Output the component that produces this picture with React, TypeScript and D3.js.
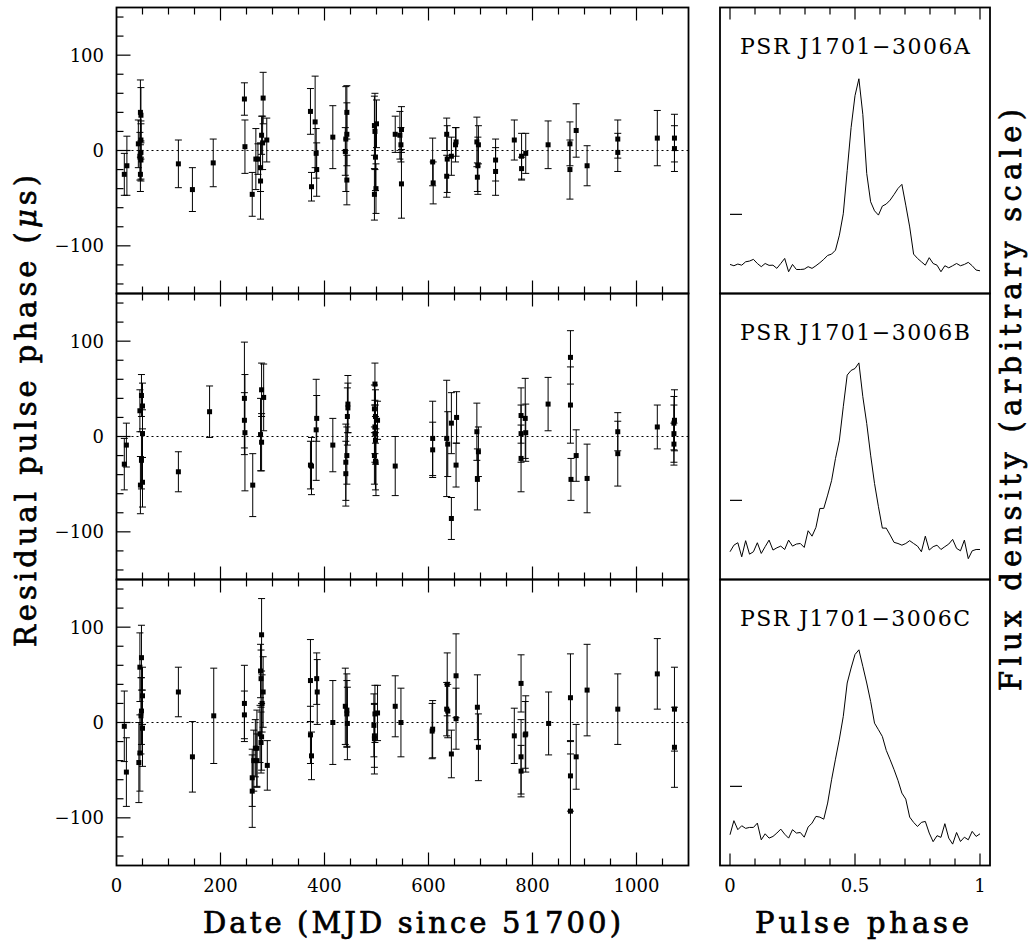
import React from 'react';
import * as d3 from 'd3';

// timing residuals: [days since MJD 51700, residual (us), 1-sigma error (us)]
const timingA: [number, number, number][] = [
  [15, -25, 22], [20, -16, 31], [42, 7, 25], [46, 40, 34], [47, 37, 29], [47, 11, 20],
  [47, -2, 30], [47, -10, 20], [46, -25, 18], [45, -6, 25], [119, -14, 25], [146, -41, 23],
  [186, -13, 25], [246, 54, 17], [247, 4, 28], [261, -46, 23], [268, -9, 32], [272, -9, 16],
  [277, -18, 25], [277, -32, 40], [279, 16, 20], [281, 8, 28], [282, 55, 27], [289, 11, 23],
  [373, 41, 24], [375, -38, 15], [382, 30, 48], [384, -3, 26], [385, -20, 28], [416, 14, 33],
  [441, 12, 55], [443, 40, 28], [443, 17, 33], [440, -1, 25], [443, -31, 26],
  [496, 26, 31], [497, 20, 40], [500, 28, 25], [498, -7, 35], [499, -40, 26], [496, -46, 27],
  [536, 17, 19], [545, 16, 25], [548, 22, 24], [547, 6, 18], [548, -35, 36],
  [608, -12, 25], [609, -34, 22], [635, 17, 17], [635, -27, 22], [636, -9, 35], [644, -6, 20],
  [652, 6, 18], [653, 9, 15], [693, 9, 26], [696, 6, 20], [695, -16, 30], [694, -28, 15],
  [729, -10, 22], [729, -22, 25], [765, 11, 21], [779, -6, 24], [779, -19, 12], [787, -3, 21],
  [830, 6, 25], [872, 7, 23], [872, -20, 31], [884, 21, 28], [905, -16, 21], [964, 12, 20],
  [964, -2, 20], [1040, 13, 29], [1073, 13, 25], [1073, 2, 24],
];

const timingB: [number, number, number][] = [
  [15, -29, 27], [19, -9, 23], [48, 43, 22], [50, 32, 24], [45, 27, 22], [50, 3, 25],
  [48, -25, 30], [50, -48, 26], [46, -51, 30], [119, -37, 21], [179, 26, 27],
  [246, 40, 59], [246, 17, 29], [247, 4, 61], [262, -51, 33], [279, 49, 28], [283, 41, 35],
  [277, 2, 38], [279, -6, 30], [373, -30, 25], [375, -31, 30], [385, 19, 24], [384, 7, 53],
  [416, -9, 28], [445, 34, 30], [445, 30, 26], [444, 21, 30], [443, -20, 30], [441, -27, 40],
  [441, -39, 34], [497, 55, 22], [496, 29, 25], [498, 21, 28], [502, 17, 20], [497, 10, 28],
  [497, 3, 30], [498, -4, 25], [496, -20, 30], [498, -26, 30], [499, -27, 35], [536, -31, 31],
  [608, -2, 39], [608, -14, 29], [635, -2, 61], [637, -8, 34], [644, 14, 32], [644, -86, 22],
  [654, 20, 27], [653, -30, 23], [693, 5, 30], [696, -16, 26], [694, -45, 32],
  [778, 22, 29], [786, 19, 42], [778, 3, 30], [787, 4, 30], [778, -23, 35], [830, 34, 28],
  [873, 83, 28], [873, 33, 40], [874, -45, 22], [884, -20, 27], [905, -44, 36],
  [964, 5, 20], [964, -18, 34], [1040, 10, 23], [1073, 17, 32], [1072, 14, 28],
  [1072, 3, 30], [1072, -8, 22],
];

const timingC: [number, number, number][] = [
  [15, -4, 37], [19, -52, 36], [48, 68, 34], [45, 58, 36], [50, 28, 30], [48, 12, 35],
  [47, 7, 40], [50, -6, 40], [45, -32, 40], [43, -42, 42], [119, 32, 26], [146, -36, 37],
  [187, 7, 50], [246, 20, 40], [246, 8, 25], [261, -58, 30], [261, -72, 38], [264, -40, 32],
  [267, -27, 30], [270, -27, 40], [270, -40, 28], [276, -12, 30], [278, -21, 32],
  [279, 92, 38], [277, 54, 28], [278, 46, 30], [282, 32, 37], [280, 20, 30], [279, -15, 35],
  [290, -45, 26], [373, 44, 43], [373, -13, 30], [375, -35, 25], [385, 46, 27], [386, 32, 34],
  [416, 0, 44], [440, 17, 40], [443, 13, 38], [443, 9, 35], [444, -1, 38],
  [502, 10, 29], [497, 9, 30], [495, -3, 33], [496, -14, 33], [496, -17, 37],
  [536, 17, 32], [547, 0, 36], [608, -7, 30], [607, -9, 29], [636, 40, 33], [635, 14, 28],
  [637, 12, 28], [644, -33, 25], [653, 49, 44], [653, 4, 32], [694, 16, 34], [696, -26, 35],
  [765, -14, 29], [778, 41, 30], [778, -36, 39], [778, -51, 27], [786, -13, 35],
  [787, -12, 40], [831, -1, 33], [873, 26, 46], [873, -56, 37], [873, -93, 60],
  [884, -36, 34], [905, 34, 48], [964, 14, 37], [1040, 51, 37], [1073, 14, 44],
  [1073, -26, 42],
];

// pulse profiles, 64 bins + wrap point, flux in % of peak
const profileA = [
  0, -0.7, 0.2, -0.4, 1.4, 1.8, 2.7, 0.5, -1.2, 0.5, -0.5, -0.4, -2.1, 0.5, 3.2, -3.9,
  0, -2.7, -2.7, -2.5, -1.2, -2.1, -0.7, 0.9, 2.7, 4.8, 5.5, 7.6, 15.6, 27, 50, 73,
  90, 99, 80, 48.5, 33.4, 28.6, 26.3, 31.1, 32.2, 34.3, 37.3, 40.5, 42.7, 31.6, 20, 5.5,
  3.2, 1.4, -0.4, 3.6, 0.5, -0.4, -3.9, -0.7, -1.8, -0.7, 0.5, -0.7, 0, 1.1, -0.7, -3, -3.4,
];
const profileB = [
  -0.7, 2.8, 4.1, -3.4, 5.2, -2, -0.7, 4.1, -1.6, 2, 5.5, 0.2, 1.4, 2.3, 0.5, 5.5,
  2.3, 3.4, 3.7, 1.6, 10.5, 7.6, 12.3, 22.4, 22.4, 29.5, 37.2, 49, 58.8, 76.6, 93.5, 96,
  97, 100, 82, 67.7, 50.8, 35.7, 23.3, 11.9, 11.9, 8.2, 4.3, 3.7, 2.8, 3.7, 5.2, 3.7,
  2.3, -0.7, 7.6, 0.2, 2, 2.8, 0.5, 2, 3.4, 5.9, 1.1, -0.2, 5.5, -4.4, -0.2, 0.5, 0.5,
];
const profileC = [
  0.9, 8.4, 3.6, 5.7, 4.3, 4.8, 4.8, 7.1, -1.8, 1.4, -0.9, 0, 1.8, 3.9, 1.2, -0.9,
  3.6, 1.8, 2.1, -0.4, 5, 7.1, 10.7, 10.3, 9.2, 17.8, 30.2, 41.2, 51.9, 64, 81.8, 89.8,
  97, 99.5, 90.7, 81.8, 72, 60.4, 56.9, 53.3, 45.9, 40.9, 35.6, 29.9, 23.1, 19.9, 10.3, 7.5,
  5.3, 7.5, 8, 1.8, -2.8, 0.4, -0.5, 6.8, -0.9, -4.1, 2.1, -2.7, -0.4, -1.8, 2.7, 0, 1.4,
];

const pulsarNames = ['PSR J1701\u22123006A', 'PSR J1701\u22123006B', 'PSR J1701\u22123006C'];
const noiseLevel = 26.7; // rms marker, same units as profiles
const dateTickLabels = [0, 200, 400, 600, 800, 1000];
const residTickLabels = [100, 0, -100];
const phaseTickLabels = [0, 0.5, 1];

const W = 1030;
const H = 945;
const panelTop = 7.5;
const panelH = 286;
const left = { x0: 116.5, x1: 688.5 };
const right = { x0: 720, x1: 990 };
const titleFont = { fontFamily: 'DejaVu Serif', fontSize: 29, stroke: '#000', strokeWidth: 0.7 };

const minus = (v: number) => String(v).replace('-', '\u2212');

const App = () => {
  const x = d3.scaleLinear().domain([0, 1100]).range([left.x0, left.x1]);
  const px = d3.scaleLinear().domain([-0.04, 1.04]).range([right.x0, right.x1]);
  const timings = [timingA, timingB, timingC];
  const profiles = [profileA, profileB, profileC];

  const minorDate = d3.range(50, 1100, 50);
  const minorResid = d3.range(-140, 150, 20);
  const minorPhase = d3.range(0, 11).map(i => i / 10);

  const panels = timings.map((rows, k) => {
    const top = panelTop + k * panelH;
    const bottom = top + panelH;
    const y = d3.scaleLinear().domain([-150, 150]).range([bottom, top]);
    const fy = d3.scaleLinear().domain([-15.5, 137]).range([bottom, top]);
    const prof = profiles[k];
    const line = d3.line<number>()
      .x((_, i) => px(i / (prof.length - 1)))
      .y(d => fy(d));
    const clipId = `clip${k}`;
    return (
      <g key={k}>
        <clipPath id={clipId}>
          <rect x={left.x0} y={top} width={left.x1 - left.x0} height={panelH} />
        </clipPath>
        {/* zero line */}
        <line x1={left.x0} x2={left.x1} y1={y(0)} y2={y(0)} stroke="#000" strokeWidth={1}
          strokeDasharray="2,3" />
        {/* residuals with error bars */}
        <g clipPath={`url(#${clipId})`}>
          {rows.map(([d, r, e], i) => (
            <g key={i} stroke="#000" strokeWidth={1}>
              <line x1={x(d)} x2={x(d)} y1={y(r - e)} y2={y(r + e)} />
              <line x1={x(d) - 3.5} x2={x(d) + 3.5} y1={y(r - e)} y2={y(r - e)} />
              <line x1={x(d) - 3.5} x2={x(d) + 3.5} y1={y(r + e)} y2={y(r + e)} />
              <rect x={x(d) - 2.5} y={y(r) - 2.5} width={5} height={5} fill="#000" stroke="none" />
            </g>
          ))}
        </g>
        {/* date ticks top and bottom */}
        {minorDate.map(v => {
          const len = v % 200 === 0 ? 13 : 7;
          return (
            <g key={v} stroke="#000" strokeWidth={1.2}>
              <line x1={x(v)} x2={x(v)} y1={top} y2={top + len} />
              <line x1={x(v)} x2={x(v)} y1={bottom} y2={bottom - len} />
            </g>
          );
        })}
        {minorResid.map(v => {
          const len = v % 100 === 0 ? 14 : 7;
          return <line key={v} x1={left.x0} x2={left.x0 + len} y1={y(v)} y2={y(v)} stroke="#000" strokeWidth={1.2} />;
        })}
        {residTickLabels.map(v => (
          <text key={v} x={104} y={y(v) + 6.5} textAnchor="end" fontFamily="DejaVu Serif"
            fontSize={18}>{minus(v)}</text>
        ))}
        <rect x={left.x0} y={top} width={left.x1 - left.x0} height={panelH} fill="none"
          stroke="#000" strokeWidth={1.8} />

        {/* profile panel */}
        <path d={line(prof) ?? ''} fill="none" stroke="#000" strokeWidth={1} />
        <line x1={px(0)} x2={px(0.048)} y1={fy(noiseLevel)} y2={fy(noiseLevel)} stroke="#000" strokeWidth={1.2} />
        <text x={855} y={top + 46} textAnchor="middle" fontFamily="DejaVu Serif" fontSize={22}
          textLength={230} lengthAdjust="spacing">{pulsarNames[k]}</text>
        {k === 0 && minorPhase.map(v => {
          const len = Math.abs(v - 0.5) < 1e-9 || v === 0 || v === 1 ? 12 : 7;
          return <line key={v} x1={px(v)} x2={px(v)} y1={top} y2={top + len} stroke="#000" strokeWidth={1.2} />;
        })}
        {k === 2 && minorPhase.map(v => {
          const len = Math.abs(v - 0.5) < 1e-9 || v === 0 || v === 1 ? 12 : 7;
          return <line key={v} x1={px(v)} x2={px(v)} y1={bottom} y2={bottom - len} stroke="#000" strokeWidth={1.2} />;
        })}
        <rect x={right.x0} y={top} width={right.x1 - right.x0} height={panelH} fill="none"
          stroke="#000" strokeWidth={1.8} />
      </g>
    );
  });

  const axisBottom = panelTop + 3 * panelH;

  return (
    <svg width={W} height={H} style={{ position: 'absolute', left: 0, top: 0, background: '#fff' }}>
      <rect x={0} y={0} width={W} height={H} fill="#fff" />
      {panels}
      {dateTickLabels.map(v => (
        <text key={v} x={x(v)} y={axisBottom + 26} textAnchor="middle" fontFamily="DejaVu Serif"
          fontSize={18}>{v}</text>
      ))}
      {phaseTickLabels.map(v => (
        <text key={v} x={px(v)} y={axisBottom + 26} textAnchor="middle" fontFamily="DejaVu Serif"
          fontSize={18}>{v}</text>
      ))}
      <text x={412} y={933} textAnchor="middle" {...titleFont} textLength={418}
        lengthAdjust="spacing">Date (MJD since 51700)</text>
      <text x={862} y={933} textAnchor="middle" {...titleFont} textLength={214}
        lengthAdjust="spacing">Pulse phase</text>
      <text transform="translate(36,411) rotate(-90)" textAnchor="middle" {...titleFont}
        textLength={472} lengthAdjust="spacing">
        Residual pulse phase (<tspan fontStyle="italic">μ</tspan>s)
      </text>
      <text transform="translate(1021,400) rotate(-90)" textAnchor="middle" {...titleFont}
        textLength={582} lengthAdjust="spacing">Flux density (arbitrary scale)</text>
    </svg>
  );
};

export default App;
